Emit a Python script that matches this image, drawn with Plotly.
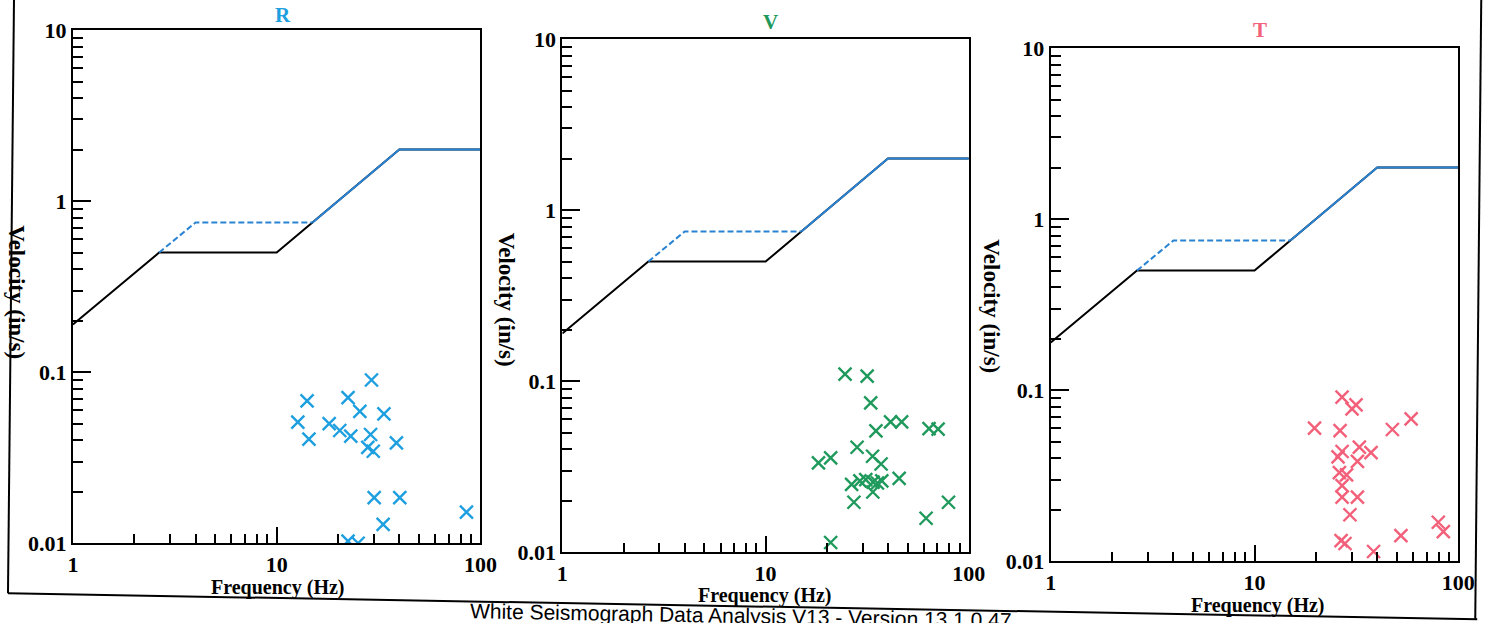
import plotly.graph_objects as go

# ---------------- data ----------------
limit_f = [1, 2.65, 10, 40, 100]
limit_v = [0.19, 0.5, 0.5, 2.0, 2.0]
drywall_f = [2.65, 4, 15]
drywall_v = [0.5, 0.75, 0.75]
upper_f = [15, 40, 100]
upper_v = [0.75, 2.0, 2.0]

r_freq = [29.2, 14.1, 22.4, 25.6, 33.6, 12.7, 18.1, 20.4, 14.4, 23.1,
          28.9, 28.0, 29.8, 38.7, 30.1, 40.2, 85.4, 33.3, 22.4, 25.1]
r_vel = [0.090, 0.068, 0.071, 0.059, 0.057, 0.051, 0.050, 0.0456, 0.0406, 0.0423,
         0.0432, 0.0363, 0.0345, 0.0386, 0.0185, 0.0185, 0.0152, 0.0129, 0.0103, 0.0100]

v_freq = [24.6, 31.6, 32.9, 41.2, 46.7, 34.9, 63.7, 70.6, 28.2, 20.9,
          18.2, 33.6, 37.0, 26.5, 29.1, 31.1, 33.8, 35.5, 37.3, 45.4,
          33.7, 27.2, 79.4, 61.6, 20.9]
v_vel = [0.110, 0.107, 0.0747, 0.0578, 0.0578, 0.0512, 0.0528, 0.0525, 0.0411, 0.0356,
         0.0333, 0.0364, 0.0328, 0.0249, 0.0261, 0.0266, 0.0257, 0.0254, 0.0261, 0.0270,
         0.0225, 0.0196, 0.0196, 0.0158, 0.0114]

t_freq = [26.9, 31.5, 30.1, 19.7, 26.3, 47.5, 58.7, 32.7, 37.3, 26.9,
          25.7, 32.0, 26.1, 28.3, 26.9, 26.9, 32.0, 29.4, 79.8, 84.5,
          52.3, 26.6, 27.8, 38.4]
t_vel = [0.091, 0.082, 0.0778, 0.060, 0.058, 0.0589, 0.068, 0.0464, 0.0432, 0.0438,
         0.0407, 0.0383, 0.0330, 0.0320, 0.0277, 0.0237, 0.0237, 0.0187, 0.0169, 0.0149,
         0.0141, 0.0132, 0.0127, 0.0114]

panel_titles = ["R", "V", "T"]
panel_colors = ["#1e9fe0", "#1f9a5c", "#f2607a"]
x_tickvals = [1, 10, 100]
x_ticktext = ["1", "10", "100"]
y_tickvals = [0.01, 0.1, 1, 10]
y_ticktext = ["0.01", "0.1", "1", "10"]
x_minor = [2, 3, 4, 5, 6, 7, 8, 9, 20, 30, 40, 50, 60, 70, 80, 90]
y_minor = [0.02, 0.03, 0.04, 0.05, 0.06, 0.07, 0.08, 0.09,
           0.2, 0.3, 0.4, 0.5, 0.6, 0.7, 0.8, 0.9,
           2, 3, 4, 5, 6, 7, 8, 9]

# ---------------- layout ----------------
FIG_W, FIG_H = 1516, 648
# observed screen = OFF + SCALE * css
SX, SY, OX, OY = 0.986, 0.961, 0.0, 0.0

# target screen positions (px)
boxes = [  # left, right, top, bottom
    (72, 480, 30, 543),
    (562, 969, 39, 552),
    (1051, 1459, 48, 561),
]
title_pos = [(282, 15), (770, 22), (1260, 30)]
xlabel_pos = [(277, 587), (765, 595), (1258, 605)]
ylabel_pos = [(16, 292), (506, 300), (992, 306)]

BLUE = "#2a83d2"
SERIF = "Liberation Serif"

def px(x):
    return ((x - OX) / SX) / FIG_W

def py(y):
    return 1 - ((y - OY) / SY) / FIG_H

fig = go.Figure()
series = [(r_freq, r_vel), (v_freq, v_vel), (t_freq, t_vel)]

annotations = []
for i, ((l, r, t, b), (fx, vy)) in enumerate(zip(boxes, series)):
    sfx = "" if i == 0 else str(i + 1)
    xa, ya = "x" + sfx, "y" + sfx
    fig.add_trace(go.Scatter(x=limit_f, y=limit_v, mode="lines",
                             line=dict(color="black", width=2), xaxis=xa, yaxis=ya,
                             showlegend=False, hoverinfo="skip"))
    fig.add_trace(go.Scatter(x=drywall_f, y=drywall_v, mode="lines",
                             line=dict(color=BLUE, width=2, dash="6px,3px"), xaxis=xa, yaxis=ya,
                             showlegend=False, hoverinfo="skip"))
    fig.add_trace(go.Scatter(x=upper_f, y=upper_v, mode="lines",
                             line=dict(color=BLUE, width=2), xaxis=xa, yaxis=ya,
                             showlegend=False, hoverinfo="skip"))
    fig.add_trace(go.Scatter(x=fx, y=vy, mode="markers",
                             marker=dict(symbol="x-thin", size=13, color=panel_colors[i],
                                         line=dict(color=panel_colors[i], width=2.4)),
                             xaxis=xa, yaxis=ya, showlegend=False, cliponaxis=True))

    axis_common = dict(showline=True, linecolor="black", linewidth=2, mirror=True,
                       showgrid=False, zeroline=False, ticks="inside", tickcolor="black",
                       tickwidth=2,
                       tickfont=dict(family=SERIF, size=22, color="black", weight="bold"),
                       type="log", tickmode="array")
    fig.update_layout(**{
        "xaxis" + sfx: dict(axis_common, domain=[px(l), px(r)], range=[0, 2],
                            anchor=ya, tickvals=x_tickvals, ticktext=x_ticktext, ticklen=16,
                            minor=dict(tickmode="array", tickvals=x_minor, ticks="inside",
                                       ticklen=9, tickwidth=2, tickcolor="black")),
        "yaxis" + sfx: dict(axis_common, domain=[py(b), py(t)], range=[-2, 1],
                            anchor=xa, tickvals=y_tickvals, ticktext=y_ticktext, ticklen=18,
                            minor=dict(tickmode="array", tickvals=y_minor, ticks="inside",
                                       ticklen=10, tickwidth=2, tickcolor="black")),
    })

    tx, ty = title_pos[i]
    annotations.append(dict(text="<b>%s</b>" % panel_titles[i], x=px(tx), y=py(ty),
                            xref="paper", yref="paper", showarrow=False,
                            xanchor="center", yanchor="middle",
                            font=dict(family=SERIF, size=21, color=panel_colors[i])))
    lx, ly = xlabel_pos[i]
    annotations.append(dict(text="<b>Frequency (Hz)</b>", x=px(lx), y=py(ly),
                            xref="paper", yref="paper", showarrow=False,
                            xanchor="center", yanchor="middle",
                            font=dict(family=SERIF, size=20, color="black")))
    vx, vy_ = ylabel_pos[i]
    annotations.append(dict(text="<b>Velocity (in/s)</b>", x=px(vx), y=py(vy_),
                            xref="paper", yref="paper", showarrow=False, textangle=90,
                            xanchor="center", yanchor="middle",
                            font=dict(family=SERIF, size=23, color="black")))

annotations.append(dict(text="White Seismograph Data Analysis V13 - Version 13.1.0.47",
                        x=px(741), y=py(615), xref="paper", yref="paper", showarrow=False,
                        xanchor="center", yanchor="middle",
                        textangle=1, font=dict(family="Liberation Sans", size=21, color="black")))

shapes = [
    dict(type="line", xref="paper", yref="paper", x0=px(13), y0=py(0), x1=px(7), y1=py(593),
         line=dict(color="black", width=2)),
    dict(type="line", xref="paper", yref="paper", x0=px(7), y0=py(593), x1=px(1478), y1=py(619),
         line=dict(color="black", width=2)),
    dict(type="line", xref="paper", yref="paper", x0=px(1482), y0=py(0), x1=px(1476), y1=py(619),
         line=dict(color="black", width=2)),
]

fig.update_layout(width=FIG_W, height=FIG_H, margin=dict(l=0, r=0, t=0, b=0),
                  paper_bgcolor="white", plot_bgcolor="white",
                  annotations=annotations, shapes=shapes, showlegend=False)

fig.write_html("out.html", config={"displayModeBar": False},
               post_script="document.body.style.margin='-12px 0 0 -5px';"
                           "document.body.style.overflow='hidden';")
